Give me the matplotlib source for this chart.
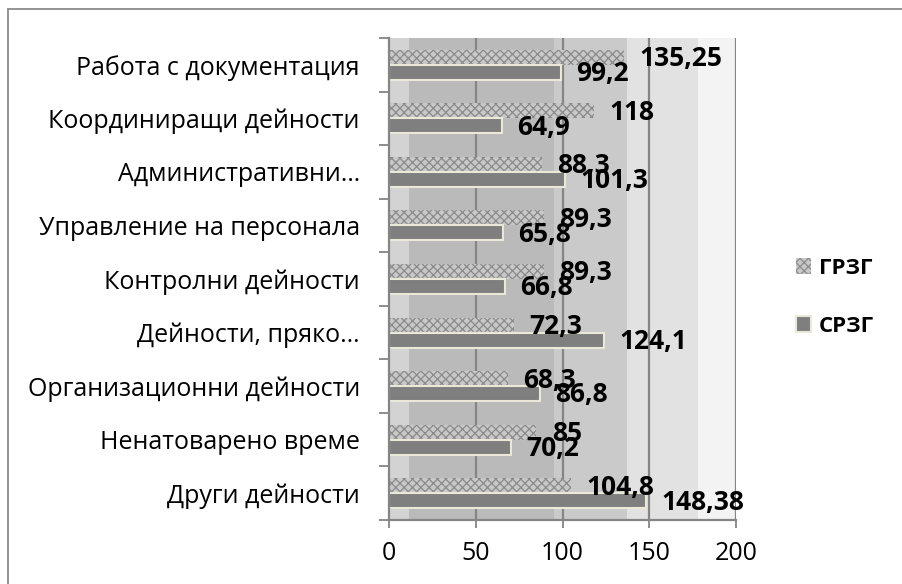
import matplotlib.pyplot as plt
import matplotlib.patches as mpatches
import numpy as np

plt.rcParams['font.family'] = ['Open Sans', 'DejaVu Sans']
plt.rcParams['hatch.linewidth'] = 0.9

categories = ["Работа с документация", "Координиращи дейности", "Административни…",
              "Управление на персонала", "Контролни дейности", "Дейности, пряко…",
              "Организационни дейности", "Ненатоварено време", "Други дейности"]
grzg = [135.25, 118, 88.3, 89.3, 89.3, 72.3, 68.3, 85, 104.8]
srzg = [99.2, 64.9, 101.3, 65.8, 66.8, 124.1, 86.8, 70.2, 148.38]
grzg_labels = ["135,25", "118", "88,3", "89,3", "89,3", "72,3", "68,3", "85", "104,8"]
srzg_labels = ["99,2", "64,9", "101,3", "65,8", "66,8", "124,1", "86,8", "70,2", "148,38"]
xticks = [0, 50, 100, 150, 200]

fig = plt.figure(figsize=(9.03, 5.84), dpi=100)
ax = fig.add_axes([389 / 903, 1 - 520 / 584, (736 - 389) / 903, (520 - 38) / 584])

# fond en bandes (imitation du dégradé Excel)
bands = [(0, 11.5, '#d3d3d3'), (11.5, 95, '#bababa'), (95, 137, '#cacaca'),
         (137, 178, '#e2e2e2'), (178, 200, '#f3f3f3')]
for x0, x1, c in bands:
    ax.axvspan(x0, x1, color=c, zorder=0, lw=0)
for x in xticks[1:]:
    ax.axvline(x, color='#858585', lw=1.6, zorder=1)

y = np.arange(len(categories))
h = 0.28
b1 = ax.barh(y - h / 2, grzg, height=h, color='#c8c8c8', edgecolor='#8a8a8a',
             hatch='xxxx', lw=0, zorder=2)
b2 = ax.barh(y + h / 2, srzg, height=h, color='#7f7f7f', edgecolor='#ece8d8',
             lw=1.5, zorder=2)

for yi, v, t in zip(y, grzg, grzg_labels):
    ax.annotate(t, (v, yi - h / 2), xytext=(11, -1), textcoords='offset points',
                va='center', ha='left', fontsize=19, fontweight='bold', zorder=5)
for yi, v, t in zip(y, srzg, srzg_labels):
    ax.annotate(t, (v, yi + h / 2), xytext=(11, -1), textcoords='offset points',
                va='center', ha='left', fontsize=19, fontweight='bold', zorder=5)

ax.set_xlim(0, 200)
ax.set_ylim(len(categories) - 0.5, -0.5)
ax.set_xticks(xticks)
ax.set_yticks(y)
ax.set_yticklabels(categories)
ax.set_yticks(np.arange(-0.5, len(categories)), minor=True)
ax.tick_params(axis='y', which='major', length=0, pad=21, labelsize=18)
ax.tick_params(axis='y', which='minor', length=7, width=1.3, color='#858585')
ax.tick_params(axis='x', length=6, width=1.3, color='#858585', labelsize=18, pad=9)
for s in ['top', 'right']:
    ax.spines[s].set_visible(False)
for s in ['left', 'bottom']:
    ax.spines[s].set_color('#858585')
    ax.spines[s].set_linewidth(1.6)
    ax.spines[s].set_zorder(3)

h1 = mpatches.Patch(facecolor='#c8c8c8', edgecolor='#8a8a8a', hatch='xxxx', lw=0)
h2 = mpatches.Patch(facecolor='#7f7f7f', edgecolor='#ece8d8', lw=1.5)
fig.legend([h1, h2], ["ГРЗГ", "СРЗГ"], loc='center left', bbox_to_anchor=(0.859, 0.491),
           frameon=False, prop={'weight': 'bold', 'size': 16}, labelspacing=1.65,
           handlelength=0.7, handleheight=0.7, handletextpad=0.35)

# cadre extérieur
fig.patches.append(mpatches.Rectangle((8 / 903, -0.1), 1.2, 1 - 9 / 584 + 0.1,
                                      transform=fig.transFigure, fill=False,
                                      edgecolor='#8a8a8a', lw=1.3))

fig.savefig('out.png', dpi=100)
